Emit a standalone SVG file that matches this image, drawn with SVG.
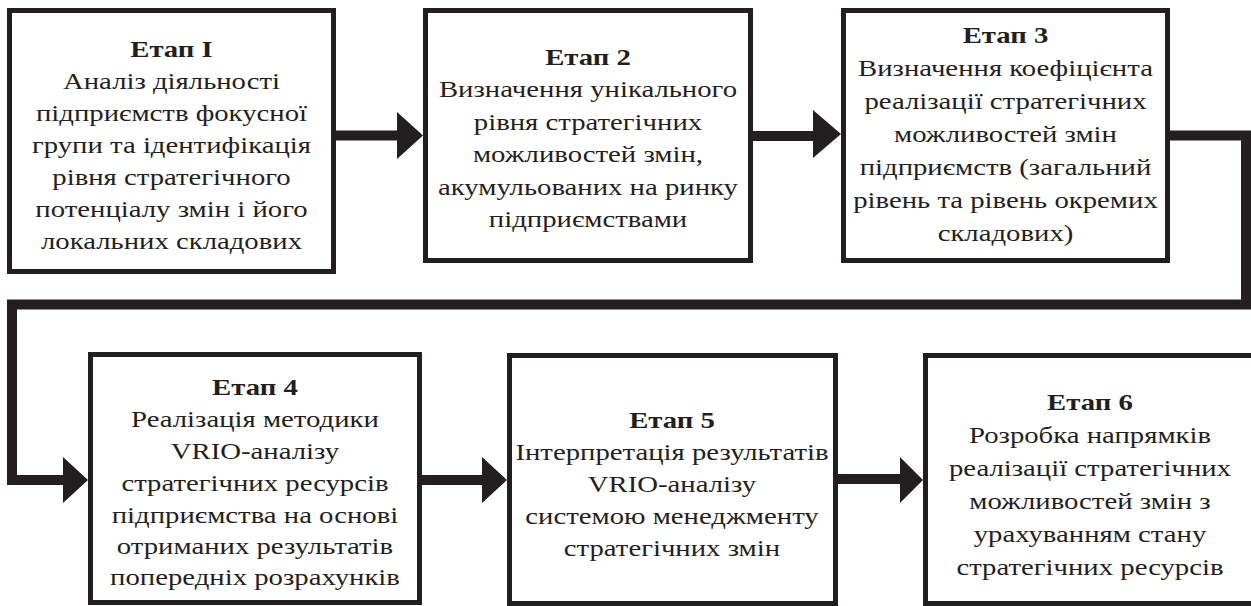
<svg xmlns="http://www.w3.org/2000/svg" width="1251" height="606" viewBox="0 0 1251 606">
<style>
.box{fill:#fff;stroke:#231f20;stroke-width:5}
.t{font-family:"Liberation Serif","Times New Roman",serif;font-size:23px;fill:#231f20;text-anchor:middle}
.b{font-weight:bold}
.conn{fill:none;stroke:#231f20;stroke-width:10;stroke-linejoin:miter}
.head{fill:#231f20}
</style>
<rect width="1251" height="606" fill="#fff"/>
<g id="connectors">
<line class="conn" x1="336" y1="135.5" x2="399" y2="135.5"/>
<polygon class="head" points="397,112 423,135.5 397,159"/>
<line class="conn" x1="753" y1="136" x2="815" y2="136"/>
<polygon class="head" points="813,110 841,134 813,158"/>
<polyline class="conn" points="1170,135.5 1246,135.5 1246,304.5 12,304.5 12,480 65,480"/>
<polygon class="head" points="63,457 88,480 63,503"/>
<line class="conn" x1="422" y1="480" x2="484" y2="480"/>
<polygon class="head" points="482,457 507,480 482,503"/>
<line class="conn" x1="837" y1="479" x2="902" y2="479"/>
<polygon class="head" points="900,457 923,480 900,503"/>
</g>
<g id="stage1">
<rect class="box" x="9.5" y="10.5" width="324" height="261"/>
<text class="t" transform="matrix(1.25 0 0 1 -42.875 0)"><tspan class="b" x="171.5" y="57">Етап І</tspan><tspan x="171.5" y="89">Аналіз діяльності</tspan><tspan x="171.5" y="121">підприємств фокусної</tspan><tspan x="171.5" y="153">групи та ідентифікація</tspan><tspan x="171.5" y="185">рівня стратегічного</tspan><tspan x="171.5" y="217">потенціалу змін і його</tspan><tspan x="171.5" y="249">локальних складових</tspan></text>
</g>
<g id="stage2">
<rect class="box" x="425.5" y="10.5" width="325" height="250"/>
<text class="t" transform="matrix(1.25 0 0 1 -147 0)"><tspan class="b" x="588" y="65">Етап 2</tspan><tspan x="588" y="97.5">Визначення унікального</tspan><tspan x="588" y="130">рівня стратегічних</tspan><tspan x="588" y="162.5">можливостей змін,</tspan><tspan x="588" y="195">акумульованих на ринку</tspan><tspan x="588" y="227.5">підприємствами</tspan></text>
</g>
<g id="stage3">
<rect class="box" x="843.5" y="10.5" width="324" height="250"/>
<text class="t" transform="matrix(1.25 0 0 1 -251.375 0)"><tspan class="b" x="1005.5" y="43">Етап 3</tspan><tspan x="1005.5" y="76">Визначення коефіцієнта</tspan><tspan x="1005.5" y="109">реалізації стратегічних</tspan><tspan x="1005.5" y="142">можливостей змін</tspan><tspan x="1005.5" y="175">підприємств (загальний</tspan><tspan x="1005.5" y="208">рівень та рівень окремих</tspan><tspan x="1005.5" y="241">складових)</tspan></text>
</g>
<g id="stage4">
<rect class="box" x="90.5" y="354.5" width="329" height="248"/>
<text class="t" transform="matrix(1.25 0 0 1 -63.75 0)"><tspan class="b" x="255" y="395">Етап 4</tspan><tspan x="255" y="427">Реалізація методики</tspan><tspan x="255" y="459">VRIO-аналізу</tspan><tspan x="255" y="491">стратегічних ресурсів</tspan><tspan x="255" y="523">підприємства на основі</tspan><tspan x="255" y="554">отриманих результатів</tspan><tspan x="255" y="585">попередніх розрахунків</tspan></text>
</g>
<g id="stage5">
<rect class="box" x="509.5" y="355.5" width="326" height="248"/>
<text class="t" transform="matrix(1.25 0 0 1 -168 0)"><tspan class="b" x="672" y="428">Етап 5</tspan><tspan x="672" y="460">Інтерпретація результатів</tspan><tspan x="672" y="492">VRIO-аналізу</tspan><tspan x="672" y="524">системою менеджменту</tspan><tspan x="672" y="556">стратегічних змін</tspan></text>
</g>
<g id="stage6">
<rect class="box" x="925.5" y="355.5" width="332" height="248"/>
<text class="t" transform="matrix(1.25 0 0 1 -272.5 0)"><tspan class="b" x="1090" y="410">Етап 6</tspan><tspan x="1090" y="443">Розробка напрямків</tspan><tspan x="1090" y="476">реалізації стратегічних</tspan><tspan x="1090" y="509">можливостей змін з</tspan><tspan x="1090" y="542">урахуванням стану</tspan><tspan x="1090" y="575">стратегічних ресурсів</tspan></text>
</g>
</svg>
